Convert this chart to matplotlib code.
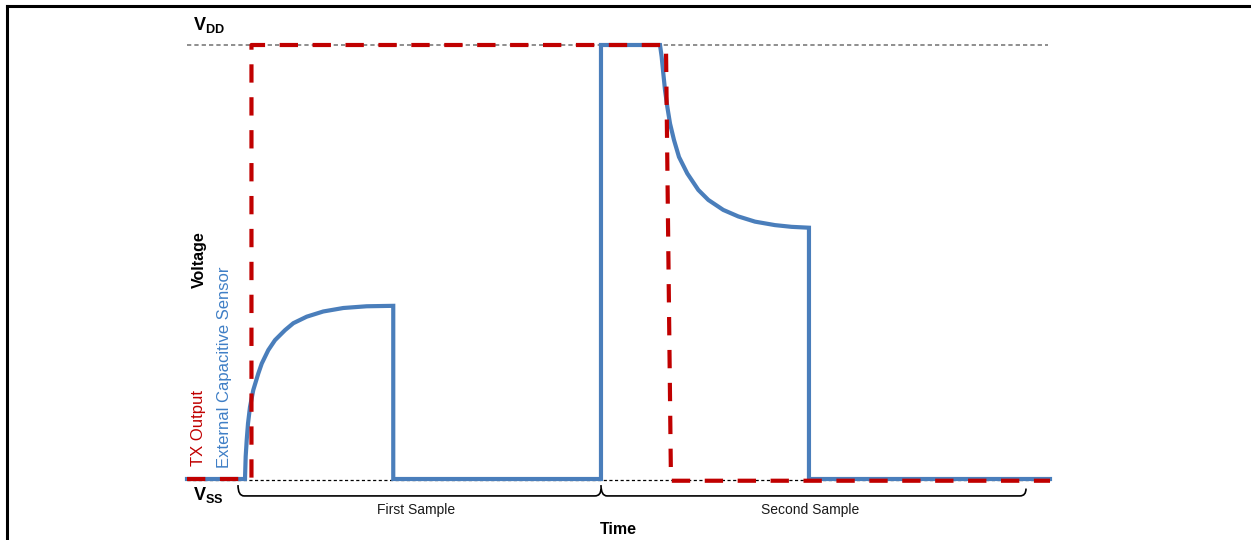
import matplotlib.pyplot as plt
from matplotlib.path import Path
from matplotlib.patches import PathPatch
from matplotlib.lines import Line2D

plt.rcParams['font.family'] = ['Liberation Sans', 'DejaVu Sans']
plt.rcParams['mathtext.fontset'] = 'custom'
plt.rcParams['mathtext.rm'] = 'Liberation Sans'
plt.rcParams['mathtext.bf'] = 'Liberation Sans:bold'

# time axis in arbitrary units (0..100), voltage normalised VSS=0, VDD=1
charge_t = [6.72, 6.80, 6.92, 7.07, 7.30, 7.68, 8.26, 8.66, 9.42, 10.20, 11.36,
            12.32, 13.87, 15.79, 18.11, 20.82, 23.90]
charge_v = [0, 0.052, 0.090, 0.128, 0.166, 0.205, 0.243, 0.266, 0.297, 0.320,
            0.343, 0.359, 0.374, 0.386, 0.394, 0.398, 0.399]
discharge_t = [54.81, 55.00, 55.19, 55.39, 55.66, 55.97, 56.43, 57.01, 57.97,
               59.25, 60.41, 62.14, 63.88, 65.82, 68.13, 70.06, 72.07]
discharge_v = [1, 0.973, 0.935, 0.896, 0.857, 0.819, 0.781, 0.742, 0.704,
               0.666, 0.643, 0.620, 0.605, 0.593, 0.585, 0.581, 0.579]

sensor_t = [0] + charge_t + [23.90, 47.97, 47.97] + discharge_t + [72.07, 100]
sensor_v = [0] + charge_v + [0, 0, 1] + discharge_v + [0, 0]

tx_t = [0, 7.47, 7.47, 55.50, 56.08, 100]
tx_v = [0, 0, 1, 1, -0.004, -0.004]

samples = ['First Sample', 'Second Sample']
sample_edges = [(5.91, 47.97), (47.97, 97.22)]

blue = '#4A7EBB'
red = '#C00000'

fig = plt.figure(figsize=(12.51, 5.40), dpi=100)
ax = fig.add_axes([187 / 1251, 61 / 540, 863 / 1251, 434 / 540])
ax.set_xlim(0, 100)
ax.set_ylim(0, 1)
ax.axis('off')

# reference levels
ax.plot([0, 99.8], [1, 1], color='#707070', lw=1.1, dashes=(2.8, 2),
        clip_on=False)
ax.plot([0, 100], [-0.002, -0.002], color='black', lw=0.9, dashes=(2.5, 2),
        clip_on=False)

ax.plot(sensor_t, sensor_v, color=blue, lw=3.0, solid_joinstyle='miter',
        clip_on=False)
ax.plot(tx_t, tx_v, color=red, lw=3.0, dashes=(4.4, 3.5),
        dash_capstyle='butt', clip_on=False)

# braces under the time axis
y_top, y_bot, r = -0.014, -0.039, 0.7
for (t0, t1), name in zip(sample_edges, samples):
    verts = [(t0, y_top), (t0, y_bot), (t0 + r, y_bot), (t1 - r, y_bot),
             (t1, y_bot), (t1, y_top - 0.008)]
    codes = [Path.MOVETO, Path.CURVE3, Path.CURVE3, Path.LINETO,
             Path.CURVE3, Path.CURVE3]
    ax.add_patch(PathPatch(Path(verts, codes), fill=False, lw=1.2,
                           color='black', clip_on=False))
    ax.text((t0 + t1) / 2 - 0.4, -0.0714, name, ha='center', va='center',
            fontsize=10, color='#1a1a1a')

ax.text(49.94, -0.1175, 'Time', ha='center', va='center', fontsize=11.5,
        fontweight='bold')
ax.text(0.70, 1.045, r'$\mathbf{V_{DD}}$', ha='left', va='center', fontsize=13)
ax.text(0.70, -0.036, r'$\mathbf{V_{SS}}$', ha='left', va='center', fontsize=13)

ax.text(1.39, 0.5046, 'Voltage', rotation=90, ha='center', va='center',
        fontsize=11.5, fontweight='bold')
ax.text(4.40, 0.258, 'External Capacitive Sensor', rotation=90, ha='center',
        va='center', fontsize=12, color='#3F7FC6')
ax.text(1.39, 0.1175, 'TX Output', rotation=90, ha='center', va='center',
        fontsize=12, color=red)

# page frame
fig.add_artist(Line2D([7 / 1251, 1], [1 - 6 / 540, 1 - 6 / 540], color='black',
                      lw=2.2))
fig.add_artist(Line2D([7 / 1251, 7 / 1251], [0, 1 - 6 / 540], color='black',
                      lw=2.2))

fig.savefig('out.png', dpi=100)
